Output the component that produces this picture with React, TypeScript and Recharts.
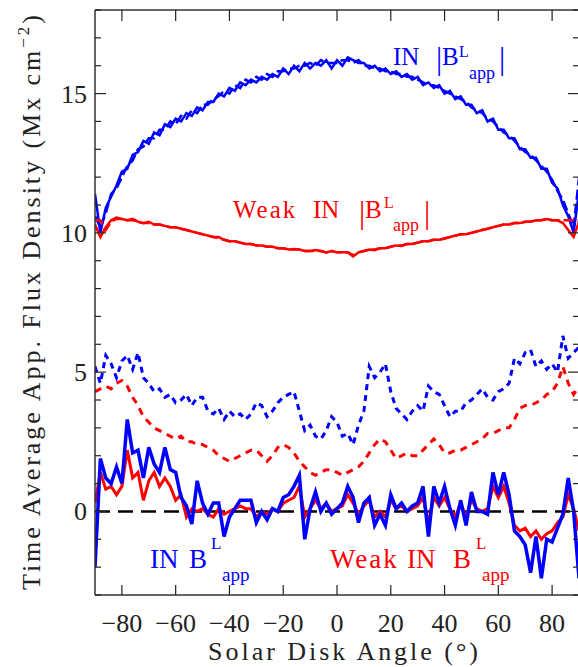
import React from "react";
import { LineChart, Line, XAxis, YAxis, ReferenceLine } from "recharts";

// solar disk angle, degrees
const ANGLES = [
  -90, -88, -86, -84, -82, -80, -78, -76, -74, -72,
  -70, -68, -66, -64, -62, -60, -58, -56, -54, -52,
  -50, -48, -46, -44, -42, -40, -38, -36, -34, -32,
  -30, -28, -26, -24, -22, -20, -18, -16, -14, -12,
  -10, -8, -6, -4, -2, 0, 2, 4, 6, 8,
  10, 12, 14, 16, 18, 20, 22, 24, 26, 28,
  30, 32, 34, 36, 38, 40, 42, 44, 46, 48,
  50, 52, 54, 56, 58, 60, 62, 64, 66, 68,
  70, 72, 74, 76, 78, 80, 82, 84, 86, 88,
  90,
];

// IN |B| (solid)
const IN_ABS = [
  11.4, 10.0, 10.9, 11.3, 11.7, 12.2, 12.3, 12.8, 12.9, 13.3,
  13.2, 13.6, 13.5, 13.9, 13.8, 14.1, 14.0, 14.3, 14.2, 14.5,
  14.4, 14.7, 14.7, 15.0, 14.9, 15.2, 15.1, 15.4, 15.3, 15.5,
  15.4, 15.6, 15.5, 15.7, 15.6, 15.9, 15.7, 16.0, 15.8, 16.1,
  15.9, 16.1, 16.0, 16.2, 15.9, 16.2, 16.0, 16.3, 16.2, 16.1,
  16.1, 15.9, 16.0, 15.8, 15.9, 15.7, 15.8, 15.6, 15.7, 15.5,
  15.6, 15.3, 15.4, 15.2, 15.3, 15.0, 15.1, 14.8, 14.9, 14.6,
  14.6, 14.3, 14.4, 14.0, 14.1, 13.7, 13.7, 13.4, 13.4, 13.0,
  13.0, 12.7, 12.7, 12.3, 12.3, 11.8, 11.6, 11.0, 10.6, 10.0,
  11.5,
];

// IN |B| (dashed)
const IN_ABS_2 = [
  10.6, 10.2, 10.7, 11.4, 11.6, 12.0, 12.4, 12.6, 13.0, 13.1,
  13.4, 13.4, 13.7, 13.7, 14.0, 13.9, 14.2, 14.1, 14.4, 14.3,
  14.6, 14.6, 14.8, 14.9, 15.1, 15.0, 15.3, 15.2, 15.5, 15.4,
  15.6, 15.5, 15.7, 15.6, 15.8, 15.8, 15.9, 15.9, 16.0, 16.0,
  16.1, 16.0, 16.2, 16.1, 16.1, 16.1, 16.2, 16.2, 16.1, 16.2,
  16.0, 16.0, 15.9, 15.9, 15.8, 15.8, 15.7, 15.7, 15.6, 15.6,
  15.5, 15.4, 15.3, 15.3, 15.2, 15.1, 15.0, 14.9, 14.8, 14.7,
  14.5, 14.4, 14.3, 14.1, 14.0, 13.8, 13.6, 13.5, 13.3, 13.1,
  12.9, 12.8, 12.6, 12.4, 12.2, 11.9, 11.5, 11.2, 10.7, 10.2,
  12.0,
];

// Weak IN |B| (solid)
const WEAK_ABS = [
  10.3, 9.85, 10.2, 10.45, 10.55, 10.5, 10.45, 10.5, 10.4, 10.35,
  10.4, 10.3, 10.3, 10.25, 10.2, 10.2, 10.15, 10.1, 10.05, 10.0,
  9.95, 9.9, 9.85, 9.85, 9.75, 9.7, 9.7, 9.65, 9.6, 9.6,
  9.55, 9.55, 9.5, 9.5, 9.45, 9.45, 9.4, 9.42, 9.4, 9.35,
  9.35, 9.38, 9.35, 9.3, 9.35, 9.3, 9.3, 9.3, 9.15, 9.3,
  9.35, 9.4, 9.38, 9.45, 9.45, 9.5, 9.55, 9.53, 9.6, 9.6,
  9.65, 9.7, 9.7, 9.75, 9.75, 9.8, 9.85, 9.9, 9.95, 9.95,
  10.0, 10.05, 10.1, 10.15, 10.2, 10.25, 10.3, 10.3, 10.35, 10.35,
  10.4, 10.4, 10.45, 10.45, 10.5, 10.45, 10.45, 10.35, 10.1, 9.85,
  10.4,
];

// Weak IN |B| (dashed)
const WEAK_ABS_2 = [
  10.45, 10.45, 10.1, 10.4, 10.5, 10.5, 10.45, 10.45, 10.4, 10.35,
  10.35, 10.3, 10.3, 10.25, 10.2, 10.2, 10.15, 10.1, 10.05, 10.0,
  9.95, 9.9, 9.85, 9.8, 9.75, 9.7, 9.7, 9.65, 9.6, 9.6,
  9.55, 9.55, 9.5, 9.5, 9.45, 9.45, 9.4, 9.4, 9.4, 9.35,
  9.35, 9.35, 9.35, 9.3, 9.35, 9.3, 9.3, 9.3, 9.2, 9.3,
  9.35, 9.4, 9.4, 9.45, 9.45, 9.5, 9.55, 9.55, 9.6, 9.6,
  9.65, 9.7, 9.7, 9.75, 9.75, 9.8, 9.85, 9.9, 9.95, 9.95,
  10.0, 10.05, 10.1, 10.15, 10.2, 10.25, 10.3, 10.3, 10.35, 10.35,
  10.4, 10.4, 10.45, 10.45, 10.5, 10.45, 10.45, 10.45, 10.45, 10.45,
  10.45,
];

// IN B (dashed, upper)
const IN_DASH = [
  5.2, 4.6, 5.6, 5.3, 4.8, 5.4, 5.6, 5.1, 5.7, 4.8,
  4.6, 4.3, 4.4, 4.1, 4.2, 3.9, 4.0, 4.2, 3.8, 4.1,
  4.1, 3.6, 3.5, 3.7, 3.3, 3.6, 3.4, 3.5, 3.3, 3.5,
  3.9, 3.8, 3.4, 3.6, 3.9, 4.1, 4.2, 4.3, 3.6, 2.9,
  3.1, 2.7, 2.6, 2.9, 3.4, 3.2, 2.7, 2.8, 2.4, 3.1,
  3.6, 5.2, 4.8, 5.0, 5.3, 4.3, 3.7, 3.5, 3.3, 3.6,
  3.8, 3.6, 4.5, 4.3, 4.2, 3.8, 3.4, 3.6, 3.6, 3.9,
  4.0, 4.2, 4.4, 4.1, 4.0, 4.3, 4.4, 4.6, 5.5, 5.3,
  5.7, 5.8, 5.2, 5.4, 5.1, 5.3, 5.0, 6.3, 5.5, 5.7,
  5.9,
];

// Weak IN B (dashed, upper)
const WEAK_DASH = [
  4.3, 4.4, 4.5, 4.4, 4.6, 4.7, 4.5, 4.1, 3.8, 3.4,
  3.2, 3.0, 2.9, 2.8, 2.7, 2.6, 2.7, 2.5, 2.5, 2.4,
  2.4, 2.3, 2.2, 2.0, 1.9, 1.8, 1.9, 2.0, 2.1, 2.2,
  2.2, 2.0, 1.8, 2.0, 2.3, 2.4, 2.3, 2.1, 1.8, 1.6,
  1.4, 1.3, 1.4, 1.5, 1.5, 1.4, 1.3, 1.4, 1.5, 1.6,
  1.8, 2.1, 2.4, 2.6, 2.5, 2.2, 1.9, 2.0, 2.1, 2.0,
  2.0, 2.2, 2.4, 2.6, 2.4, 2.1, 2.1, 2.2, 2.2, 2.3,
  2.4, 2.5, 2.6, 2.8, 2.8, 2.9, 3.0, 3.0, 3.3, 3.7,
  3.8, 3.8, 3.9, 4.0, 4.2, 4.3, 4.6, 5.2, 4.6, 4.2,
  4.5,
];

// IN B (solid, near zero)
const IN_SIGNED = [
  -2.0, 1.9, 1.2, 1.0, 1.6, 1.0, 3.3, 2.1, 2.2, 1.2,
  2.3, 1.7, 1.4, 2.3, 1.5, 1.4, 0.5, 0.2, -0.45, 1.1,
  0.3, -0.1, 0.3, 0.3, -0.9, -0.2, 0.1, 0.4, 0.4, 0.4,
  -0.4, 0.0, -0.3, 0.1, 0.0, 0.5, 0.6, 0.9, 1.3, -1.0,
  0.1, 0.7, 0.0, 0.3, -0.1, 0.1, 0.3, 0.9, 0.5, -0.4,
  0.3, 0.5, -0.5, -0.1, -0.5, 0.6, 0.1, 0.3, 0.0, 0.2,
  0.3, 0.9, -0.9, 0.9, 0.3, 0.9, 0.1, -0.5, 0.4, -0.5,
  0.7, 0.0, 0.0, -0.1, 1.4, 0.6, 1.4, 0.6, -0.7, -0.9,
  -1.2, -2.2, -0.9, -2.4, -1.0, -1.1, -0.6, -0.1, 1.2, 0.0,
  -2.4,
];

// Weak IN B (solid, near zero)
const WEAK_SIGNED = [
  0.3, 1.4, 0.8, 0.9, 0.6, 0.9, 2.2, 1.2, 1.4, 0.4,
  1.1, 1.4, 0.9, 1.2, 0.9, 0.4, 0.6, -0.2, 0.1, 0.0,
  0.1, -0.1, -0.2, 0.1, -0.1, 0.0, 0.1, 0.2, 0.1, 0.1,
  -0.2, 0.0, -0.1, 0.1, 0.0, 0.3, 0.4, 0.5, 0.9, -0.2,
  0.1, 0.4, 0.1, 0.3, 0.0, 0.1, 0.2, 0.6, 0.3, -0.1,
  0.2, 0.4, -0.2, 0.0, -0.2, 0.4, 0.1, 0.2, 0.0, 0.1,
  0.2, 0.5, -0.4, 0.5, 0.2, 0.5, 0.1, -0.2, 0.3, -0.2,
  0.4, 0.1, 0.0, 0.1, 0.9, 0.5, 0.9, 0.3, -0.5, -0.7,
  -0.6, -0.9, -0.7, -1.0, -0.8, -0.7, -0.4, -0.2, 0.6, 0.1,
  -0.7,
];

const X_TICKS = [-80, -60, -40, -20, 0, 20, 40, 60, 80];
const Y_TICKS = [-3, -2, -1, 0, 1, 2, 3, 4, 5, 6, 7, 8, 9, 10, 11, 12, 13, 14, 15, 16, 17, 18];

const data = ANGLES.map((a, i) => ({
  angle: a,
  inAbs: IN_ABS[i],
  inAbs2: IN_ABS_2[i],
  weakAbs: WEAK_ABS[i],
  weakAbs2: WEAK_ABS_2[i],
  inDash: IN_DASH[i],
  weakDash: WEAK_DASH[i],
  inSigned: IN_SIGNED[i],
  weakSigned: WEAK_SIGNED[i],
}));

const FONT = "Liberation Serif";
const BLUE = "#0000ff";
const RED = "#ff0000";
const fmt = (v: number) => (v < 0 ? `\u2212${-v}` : `${v}`);
const serif = { fontFamily: FONT };

function LeftTick({ x, y, payload }: any) {
  const major = payload.value % 5 === 0;
  return (
    <g>
      <line x1={x} x2={x + (major ? 11 : 6)} y1={y} y2={y} stroke="#222" strokeWidth={1.2} />
      {major && (
        <text x={x - 8} y={y + 9} textAnchor="end" style={serif} fontSize={26} fill="#222">
          {fmt(payload.value)}
        </text>
      )}
    </g>
  );
}

function RightTick({ x, y, payload }: any) {
  const major = payload.value % 5 === 0;
  return <line x1={x} x2={x - (major ? 11 : 6)} y1={y} y2={y} stroke="#222" strokeWidth={1.2} />;
}

function BottomTick({ x, y, payload }: any) {
  return (
    <g>
      <line x1={x} x2={x} y1={y} y2={y - 10} stroke="#222" strokeWidth={1.2} />
      <text x={x} y={y + 37} textAnchor="middle" style={serif} fontSize={26} fill="#222">
        {fmt(payload.value)}
      </text>
    </g>
  );
}

function TopTick({ x, y }: any) {
  return <line x1={x} x2={x} y1={y} y2={y + 11} stroke="#222" strokeWidth={1.2} />;
}

function T(props: any) {
  return <text style={serif} {...props} />;
}

function Labels() {
  return (
    <svg width={578} height={667} style={{ position: "absolute", left: 0, top: 0, pointerEvents: "none" }}>
      {/* axis titles */}
      <T x={208} y={660} fontSize={26} textLength={270} lengthAdjust="spacing" fill="#222">
        Solar Disk Angle (°)
      </T>
      <T transform="translate(40,590) rotate(-90)" fontSize={26} textLength={575} lengthAdjust="spacing" fill="#222">
        Time Average App. Flux Density (Mx cm
        <tspan dy={-11} fontSize={17}>
          {"\u22122"}
        </tspan>
        <tspan dy={11}>)</tspan>
      </T>

      {/* IN |B| */}
      <g fill={BLUE}>
        <T x={393} y={65} fontSize={25}>IN</T>
        <T x={436} y={69} fontSize={31}>|</T>
        <T x={442} y={65} fontSize={25}>B</T>
        <T x={459} y={57} fontSize={16}>L</T>
        <T x={469} y={79} fontSize={18}>app</T>
        <T x={499} y={69} fontSize={31}>|</T>
      </g>

      {/* Weak IN |B| */}
      <g fill={RED}>
        <T x={233} y={218} fontSize={25} letterSpacing={2}>Weak</T>
        <T x={313} y={218} fontSize={25}>IN</T>
        <T x={359} y={223} fontSize={31}>|</T>
        <T x={365} y={218} fontSize={25}>B</T>
        <T x={384} y={208} fontSize={16}>L</T>
        <T x={393} y={231} fontSize={18}>app</T>
        <T x={424} y={223} fontSize={31}>|</T>
      </g>

      {/* IN B */}
      <g fill={BLUE}>
        <T x={150} y={568} fontSize={27}>IN</T>
        <T x={189} y={568} fontSize={27}>B</T>
        <T x={211} y={549} fontSize={17}>L</T>
        <T x={222} y={581} fontSize={19}>app</T>
      </g>

      {/* Weak IN B */}
      <g fill={RED}>
        <T x={330} y={568} fontSize={27} letterSpacing={2}>Weak</T>
        <T x={407} y={568} fontSize={27}>IN</T>
        <T x={453} y={568} fontSize={27}>B</T>
        <T x={476} y={549} fontSize={17}>L</T>
        <T x={482} y={581} fontSize={19}>app</T>
      </g>
    </svg>
  );
}

export default function App() {
  const axisLine = { stroke: "#333", strokeWidth: 1.5 };
  return (
    <div style={{ position: "absolute", left: 0, top: 0, width: 578, height: 667, overflow: "hidden", background: "#fff" }}>
      <LineChart width={581} height={667} data={data} margin={{ top: 0, right: 0, bottom: 0, left: 0 }}>
        <XAxis
          xAxisId="b"
          dataKey="angle"
          type="number"
          domain={[-90, 90]}
          ticks={X_TICKS}
          interval={0}
          height={72}
          tickSize={0}
          tickMargin={0}
          tickLine={false}
          axisLine={axisLine}
          tick={<BottomTick />}
          allowDataOverflow
        />
        <XAxis
          xAxisId="t"
          orientation="top"
          dataKey="angle"
          type="number"
          domain={[-90, 90]}
          ticks={X_TICKS}
          interval={0}
          height={10}
          tickSize={0}
          tickMargin={0}
          tickLine={false}
          axisLine={axisLine}
          tick={<TopTick />}
          allowDataOverflow
        />
        <YAxis
          yAxisId="l"
          type="number"
          domain={[-3, 18]}
          ticks={Y_TICKS}
          interval={0}
          width={95}
          tickSize={0}
          tickMargin={0}
          tickLine={false}
          axisLine={axisLine}
          tick={<LeftTick />}
          allowDataOverflow
        />
        <YAxis
          yAxisId="r"
          orientation="right"
          type="number"
          domain={[-3, 18]}
          ticks={Y_TICKS}
          interval={0}
          width={2}
          tickSize={0}
          tickMargin={0}
          tickLine={false}
          axisLine={axisLine}
          tick={<RightTick />}
          allowDataOverflow
        />
        <Line xAxisId="b" yAxisId="l" dataKey="inAbs2" stroke={BLUE} strokeWidth={2.5} strokeDasharray="10 4" dot={false} isAnimationActive={false} />
        <Line xAxisId="b" yAxisId="l" dataKey="inAbs" stroke={BLUE} strokeWidth={2.5} dot={false} isAnimationActive={false} />
        <Line xAxisId="b" yAxisId="l" dataKey="weakAbs2" stroke={RED} strokeWidth={2.5} strokeDasharray="10 4" dot={false} isAnimationActive={false} />
        <Line xAxisId="b" yAxisId="l" dataKey="weakAbs" stroke={RED} strokeWidth={2.5} dot={false} isAnimationActive={false} />
        <Line xAxisId="b" yAxisId="l" dataKey="weakDash" stroke={RED} strokeWidth={3} strokeDasharray="7 6" dot={false} isAnimationActive={false} />
        <Line xAxisId="b" yAxisId="l" dataKey="inDash" stroke={BLUE} strokeWidth={3} strokeDasharray="6 5" dot={false} isAnimationActive={false} />
        <ReferenceLine xAxisId="b" yAxisId="l" y={0} stroke="#000" strokeWidth={2.5} strokeDasharray="15 8" />
        <Line xAxisId="b" yAxisId="l" dataKey="weakSigned" stroke={RED} strokeWidth={3} dot={false} isAnimationActive={false} />
        <Line xAxisId="b" yAxisId="l" dataKey="inSigned" stroke={BLUE} strokeWidth={3.5} dot={false} isAnimationActive={false} />
      </LineChart>
      <Labels />
    </div>
  );
}
